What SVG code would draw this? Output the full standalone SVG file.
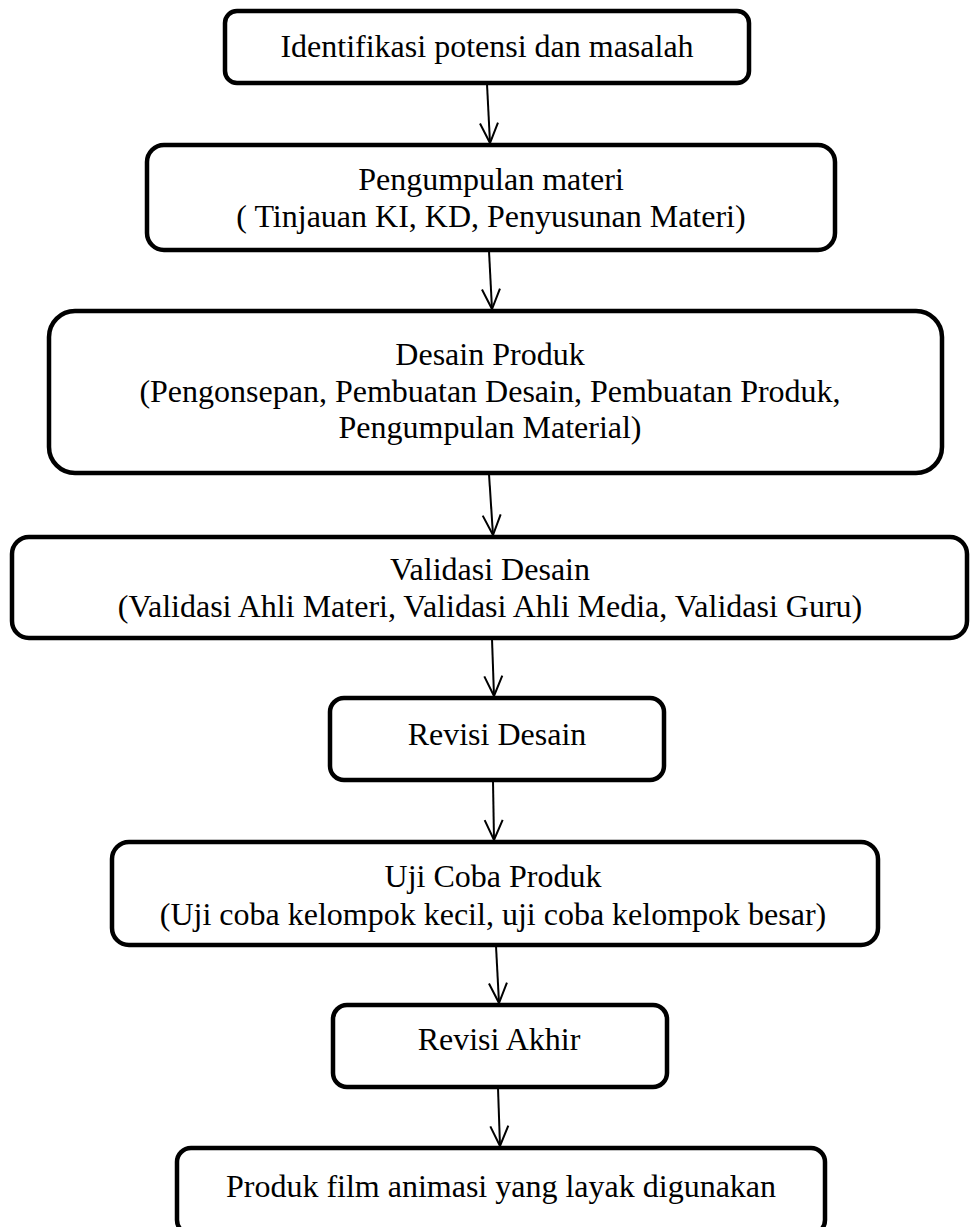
<svg xmlns="http://www.w3.org/2000/svg" width="970" height="1227" viewBox="0 0 970 1227">
<defs>
<style>
.box{fill:#fff;stroke:#000;stroke-width:4.5}
.t{font-family:"Liberation Serif","Times New Roman",serif;font-size:32px;fill:#000;text-anchor:middle}
.c{stroke:#000;stroke-width:2;fill:none}
</style>
<marker id="ah" viewBox="-22 -11 24 22" refX="0" refY="0" markerWidth="24" markerHeight="22" markerUnits="userSpaceOnUse" orient="auto">
<path d="M-20,-9 L0,0 L-20,9" fill="none" stroke="#000" stroke-width="2"/>
</marker>
</defs>
<rect width="970" height="1227" fill="#fff"/>
<g id="connectors">
<line class="c" x1="487" y1="84" x2="490" y2="143" marker-end="url(#ah)"/>
<line class="c" x1="489" y1="251" x2="492" y2="309" marker-end="url(#ah)"/>
<line class="c" x1="489" y1="474" x2="493" y2="535" marker-end="url(#ah)"/>
<line class="c" x1="492" y1="639" x2="494" y2="696" marker-end="url(#ah)"/>
<line class="c" x1="493" y1="781" x2="494" y2="840" marker-end="url(#ah)"/>
<line class="c" x1="496" y1="946" x2="499" y2="1003" marker-end="url(#ah)"/>
<line class="c" x1="498" y1="1088" x2="500" y2="1146" marker-end="url(#ah)"/>
</g>
<g id="n1">
<rect class="box" x="225" y="11" width="524" height="72" rx="12"/>
<text class="t" x="487" y="57">Identifikasi potensi dan masalah</text>
</g>
<g id="n2">
<rect class="box" x="147" y="145" width="688" height="105" rx="17"/>
<text class="t" x="491" y="190">Pengumpulan materi</text>
<text class="t" x="491" y="227">( Tinjauan KI, KD, Penyusunan Materi)</text>
</g>
<g id="n3">
<rect class="box" x="49" y="311" width="893" height="162" rx="26"/>
<text class="t" x="490" y="365">Desain Produk</text>
<text class="t" x="490" y="402">(Pengonsepan, Pembuatan Desain, Pembuatan Produk,</text>
<text class="t" x="490" y="438">Pengumpulan Material)</text>
</g>
<g id="n4">
<rect class="box" x="12" y="537" width="955" height="101" rx="17"/>
<text class="t" x="490" y="580">Validasi Desain</text>
<text class="t" x="490" y="617">(Validasi Ahli Materi, Validasi Ahli Media, Validasi Guru)</text>
</g>
<g id="n5">
<rect class="box" x="330" y="698" width="334" height="82" rx="14"/>
<text class="t" x="497" y="745">Revisi Desain</text>
</g>
<g id="n6">
<rect class="box" x="112" y="842" width="766" height="103" rx="17"/>
<text class="t" x="493" y="887">Uji Coba Produk</text>
<text class="t" x="493" y="925">(Uji coba kelompok kecil, uji coba kelompok besar)</text>
</g>
<g id="n7">
<rect class="box" x="333" y="1005" width="334" height="82" rx="14"/>
<text class="t" x="499" y="1050">Revisi Akhir</text>
</g>
<g id="n8">
<rect class="box" x="177" y="1148" width="648" height="86" rx="14"/>
<text class="t" x="501" y="1197">Produk film animasi yang layak digunakan</text>
</g>
</svg>
